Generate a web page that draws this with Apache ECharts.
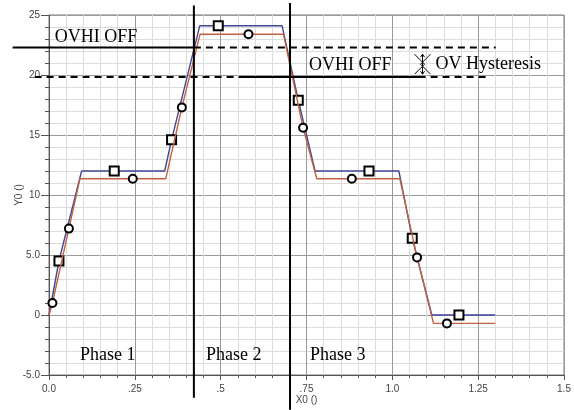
<!DOCTYPE html>
<html>
<head>
<meta charset="utf-8">
<script src="https://cdn.jsdelivr.net/npm/echarts@6/dist/echarts.min.js"></script>
<style>
  html, body { margin: 0; padding: 0; background: #ffffff; }
  #chart { width: 574px; height: 410px; }
</style>
</head>
<body>
<div id="chart"></div>
<script>
// Axis ticks and their printed labels
const xTicks = [0, 0.25, 0.5, 0.75, 1.0, 1.25, 1.5];
const xTickLabels = ['0.0', '.25', '.5', '.75', '1.0', '1.25', '1.5'];
const yTicks = [-5, 0, 5, 10, 15, 20, 25];
const yTickLabels = ['-5.0', '0', '5.0', '10', '15', '20', '25'];

// Trace Y0 (upper, blue): corner points of the waveform and the marked samples
const blueCorners = [[0, 0], [0.095, 12], [0.337, 12], [0.439, 24.1], [0.679, 24.1],
                     [0.775, 12], [1.019, 12], [1.115, 0], [1.30, 0]];
const blueMarkers = [[0.029, 4.5], [0.19, 12], [0.357, 14.6], [0.493, 24.1],
                     [0.726, 17.9], [0.932, 12], [1.058, 6.4], [1.194, 0]];

// Trace Y0 (lower, red): corner points and marked samples
const redCorners = [[0, 0], [0.09, 11.35], [0.34, 11.35], [0.44, 23.4], [0.683, 23.4],
                    [0.78, 11.35], [1.022, 11.35], [1.12, -0.7], [1.30, -0.7]];
const redMarkers = [[0.01, 1.0], [0.058, 7.2], [0.244, 11.35], [0.387, 17.3],
                    [0.581, 23.4], [0.74, 15.6], [0.882, 11.35], [1.072, 4.8], [1.159, -0.7]];

// Phase boundaries (x) and threshold levels (y)
const phaseBounds = [0.422, 0.702];
const ovhiOffLevel = 22.3;
const hysteresisLevel = 19.83;

// Reference segments [x1, y1, x2, y2]
const solidSegments = [
  [phaseBounds[0], 25.8, phaseBounds[0], -6.9],
  [phaseBounds[1], 26.0, phaseBounds[1], -7.9],
  [-0.106, ovhiOffLevel, phaseBounds[0], ovhiOffLevel],
  [0.556, hysteresisLevel, 1.092, hysteresisLevel]
];
const dashedSegments = [
  [phaseBounds[0], ovhiOffLevel, 1.301, ovhiOffLevel],
  [-0.042, hysteresisLevel, 1.281, hysteresisLevel]
];

// Text annotations [x, y, text]
const notes = [
  [0.017, 23.15, 'OVHI OFF'],
  [0.757, 20.8, 'OVHI OFF'],
  [1.126, 20.9, 'OV Hysteresis'],
  [0.09, -3.35, 'Phase 1'],
  [0.457, -3.35, 'Phase 2'],
  [0.760, -3.35, 'Phase 3']
];
const hysteresisIcon = [[1.088, 20.9]];

function tracePath(corners, markers, symbol) {
  const pts = corners.map(p => ({ value: p, symbol: 'none' }))
    .concat(markers.map(p => ({ value: p, symbol: symbol })));
  pts.sort((a, b) => a.value[0] - b.value[0]);
  return pts;
}

const chart = echarts.init(document.getElementById('chart'), null, { renderer: 'canvas' });

const tickFont = { fontFamily: 'Liberation Sans', fontSize: 10, color: '#444' };

function segmentSeries(data, dashed) {
  return {
    type: 'custom',
    clip: false,
    silent: true,
    z: 5,
    data: data,
    renderItem: function (params, api) {
      const a = api.coord([api.value(0), api.value(1)]);
      const b = api.coord([api.value(2), api.value(3)]);
      return {
        type: 'line',
        shape: { x1: a[0], y1: a[1], x2: b[0], y2: b[1] },
        style: { stroke: '#000', lineWidth: 2, lineDash: dashed ? [7, 5] : null }
      };
    }
  };
}

const option = {
  animation: false,
  backgroundColor: '#ffffff',
  grid: { left: 49, right: 10, top: 15, bottom: 35, show: true, borderColor: '#777', borderWidth: 1,
          containLabel: false, outerBoundsMode: 'none' },
  xAxis: {
    type: 'value', min: 0, max: 1.5, interval: 0.25,
    name: 'X0 ()', nameLocation: 'middle', nameGap: 20, nameMoveOverlap: false,
    nameTextStyle: tickFont,
    axisLine: { show: true, onZero: false, lineStyle: { color: '#555' } },
    axisTick: { show: true, length: 5, lineStyle: { color: '#555' } },
    minorTick: { show: true, splitNumber: 5, length: 3, lineStyle: { color: '#555' } },
    splitLine: { show: true, lineStyle: { color: '#999' } },
    minorSplitLine: { show: true, lineStyle: { color: '#dcdcdc' } },
    axisLabel: Object.assign({ margin: 9, formatter: v => xTickLabels[xTicks.indexOf(Math.round(v * 100) / 100)] }, tickFont)
  },
  yAxis: {
    type: 'value', min: -5, max: 25, interval: 5,
    name: 'Y0 ()', nameLocation: 'middle', nameGap: 25, nameMoveOverlap: false,
    nameTextStyle: tickFont,
    axisLine: { show: true, onZero: false, lineStyle: { color: '#555' } },
    axisTick: { show: true, length: 8, lineStyle: { color: '#555' } },
    minorTick: { show: true, splitNumber: 5, length: 4, lineStyle: { color: '#555' } },
    splitLine: { show: true, lineStyle: { color: '#999' } },
    minorSplitLine: { show: true, lineStyle: { color: '#dcdcdc' } },
    axisLabel: Object.assign({ margin: 9, formatter: v => yTickLabels[yTicks.indexOf(Math.round(v))] }, tickFont)
  },
  series: [
    {
      type: 'line', name: 'blue',
      data: tracePath(blueCorners, blueMarkers, 'rect'),
      symbolSize: 9, showAllSymbol: true, z: 3,
      lineStyle: { color: '#3c4896', width: 1.4 },
      itemStyle: { color: '#fff', borderColor: '#000', borderWidth: 2 }
    },
    {
      type: 'line', name: 'red',
      data: tracePath(redCorners, redMarkers, 'circle'),
      symbolSize: 8, showAllSymbol: true, z: 4,
      lineStyle: { color: '#c4603e', width: 1.4 },
      itemStyle: { color: '#fff', borderColor: '#000', borderWidth: 2 }
    },
    segmentSeries(solidSegments, false),
    segmentSeries(dashedSegments, true),
    {
      type: 'custom', clip: false, silent: true, z: 6,
      data: notes,
      renderItem: function (params, api) {
        const p = api.coord([api.value(0), api.value(1)]);
        return {
          type: 'text', x: p[0], y: p[1],
          style: { text: notes[params.dataIndex][2], font: '18px "Liberation Serif"',
                   fill: '#000', verticalAlign: 'middle', align: 'left' }
        };
      }
    },
    {
      // hysteresis glyph: crossed chevrons around a double-headed arrow
      type: 'custom', clip: false, silent: true, z: 6,
      data: hysteresisIcon,
      renderItem: function (params, api) {
        const p = api.coord([api.value(0), api.value(1)]);
        const s = { stroke: '#000', lineWidth: 1, fill: null };
        return {
          type: 'group', x: p[0], y: p[1],
          children: [
            { type: 'polyline', shape: { points: [[-8, -10], [2, 0], [-8, 10]] }, style: s },
            { type: 'polyline', shape: { points: [[8, -10], [-2, 0], [8, 10]] }, style: s },
            { type: 'line', shape: { x1: 0, y1: -10, x2: 0, y2: 10 }, style: s },
            { type: 'polyline', shape: { points: [[-2, -7], [0, -10], [2, -7]] }, style: s },
            { type: 'polyline', shape: { points: [[-2, 7], [0, 10], [2, 7]] }, style: s }
          ]
        };
      }
    }
  ]
};

chart.setOption(option);
</script>
</body>
</html>
